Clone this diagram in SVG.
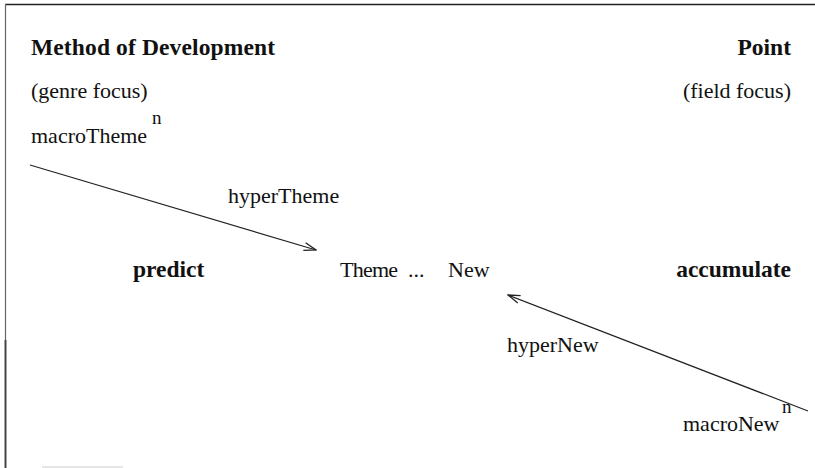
<svg xmlns="http://www.w3.org/2000/svg" width="815" height="468" viewBox="0 0 815 468">
<style>
text{font-family:"Liberation Serif","Times New Roman",serif;font-size:22px;fill:#111}
.b{font-weight:bold;font-size:23.5px}
.sup{font-size:19px}
.ln{stroke:#222;stroke-width:1.2;fill:none}
</style>
<defs>
<marker id="ah" viewBox="0 0 14 10" refX="13" refY="5" markerWidth="14" markerHeight="10" markerUnits="userSpaceOnUse" orient="auto">
<path d="M1,1 L13,5 L1,9" fill="none" stroke="#222" stroke-width="1.3"/>
</marker>
</defs>
<rect width="815" height="468" fill="#fff"/>
<g id="frame">
<line x1="5" y1="4.5" x2="815" y2="4.5" stroke="#222" stroke-width="1.5"/>
<line x1="5.5" y1="4" x2="5.5" y2="340" stroke="#666" stroke-width="1.2"/>
<line x1="5.5" y1="340" x2="5.5" y2="468" stroke="#444" stroke-width="2"/>
<line x1="42" y1="467" x2="123" y2="467" stroke="#ccc" stroke-width="1"/>
</g>
<g id="method"><text class="b" x="31" y="55" textLength="244">Method of Development</text></g>
<g id="genre"><text x="31" y="98">(genre focus)</text></g>
<g id="macroTheme"><text x="31" y="143">macroTheme</text><text class="sup" x="152" y="124">n</text></g>
<g id="point"><text class="b" x="791" y="55" text-anchor="end">Point</text></g>
<g id="field"><text x="791" y="98" text-anchor="end">(field focus)</text></g>
<g id="predict"><text class="b" x="133" y="277">predict</text></g>
<g id="themeNew"><text x="340" y="277" textLength="58">Theme</text><text x="408" y="277">...</text><text x="448" y="277">New</text></g>
<g id="accumulate"><text class="b" x="791" y="277" text-anchor="end">accumulate</text></g>
<g id="macroNew"><text x="683" y="431">macroNew</text><text class="sup" x="782" y="413">n</text></g>
<g id="connectors">
<line class="ln" x1="30" y1="165" x2="316" y2="250" marker-end="url(#ah)"/>
<text x="228" y="203">hyperTheme</text>
<line class="ln" x1="808" y1="411" x2="508" y2="295" marker-end="url(#ah)"/>
<text x="507" y="352">hyperNew</text>
</g>
</svg>
